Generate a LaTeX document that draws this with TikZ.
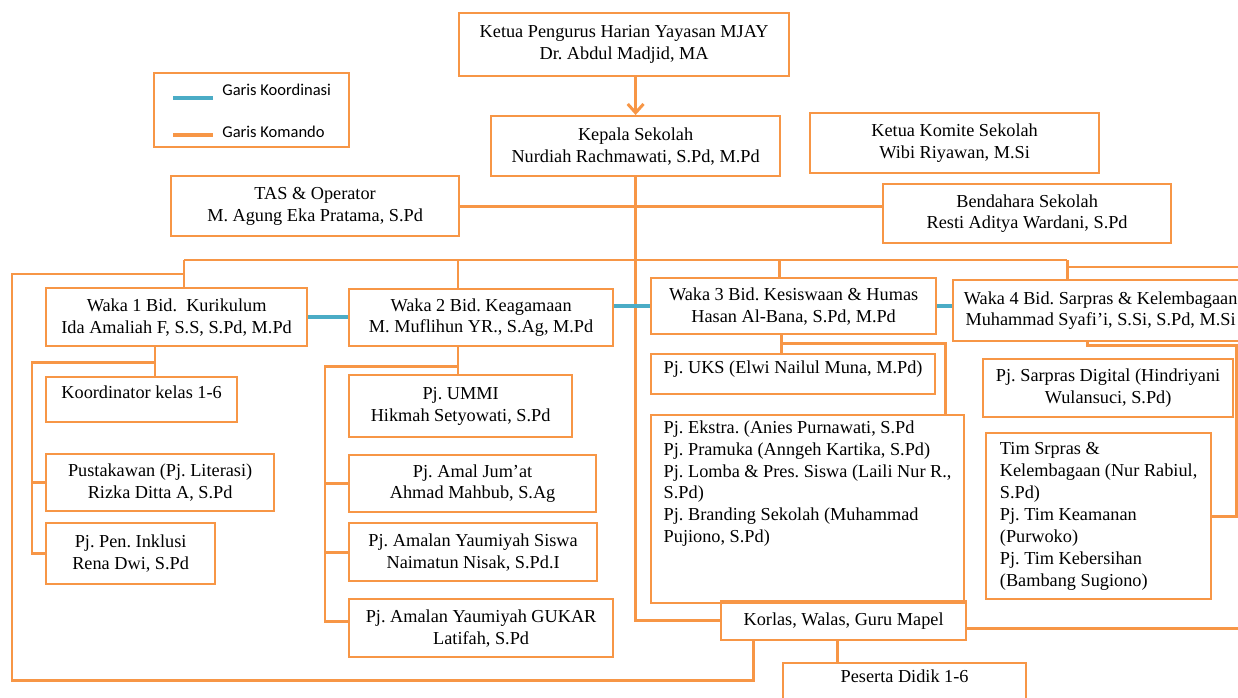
\documentclass[tikz,border=0pt]{standalone}
\usepackage{fontspec}
\setmainfont{Liberation Serif}
\newfontfamily\legendfont{Carlito}
\usetikzlibrary{arrows.meta, calc}
\definecolor{oranye}{RGB}{247,150,70}
\definecolor{biru}{RGB}{75,172,198}

\begin{document}
\frenchspacing
\begin{tikzpicture}[x=0.02cm, y=-0.02cm,
        box/.style={draw=oranye, line width=1.3pt, anchor=north west, inner sep=3pt, align=center,
            font=\fontsize{10.4}{12.5}\selectfont},
        leftbox/.style={box, align=left},
        atas/.style={text depth=0.28cm},
        komando/.style={oranye, line width=1.7pt},
        koordinasi/.style={biru, line width=2.4pt},
        legendtext/.style={anchor=west, inner sep=0pt, font=\legendfont\fontsize{9.4}{11}\selectfont}]
        \useasboundingbox (0,0) rectangle (1238,697);
        \clip (0,0) rectangle (1238,697);

        % pimpinan
        \node[box, minimum width=6.6cm, minimum height=1.26cm] (ketua) at (458,12) {Ketua Pengurus Harian Yayasan MJAY\\Dr. Abdul Madjid, MA};
        \node[box, minimum width=5.78cm, minimum height=1.2cm] (kepala) at (490,115) {Kepala Sekolah\\Nurdiah Rachmawati, S.Pd, M.Pd};
        \node[box, minimum width=5.78cm, minimum height=1.2cm] (komite) at (809,112) {Ketua Komite Sekolah\\Wibi Riyawan, M.Si};
        \node[box, minimum width=5.76cm, minimum height=1.2cm] (tas) at (170,175) {TAS \& Operator\\M. Agung Eka Pratama, S.Pd};
        \node[box, minimum width=5.76cm, minimum height=1.18cm] (bendahara) at (882,183) {Bendahara Sekolah\\Resti Aditya Wardani, S.Pd};

        % legenda
        \node[box, minimum width=3.9cm, minimum height=1.48cm] (legenda) at (153,72) {};
        \node[legendtext] (tkoord) at (222,90) {Garis Koordinasi};
        \node[legendtext] (tkomando) at (222,132) {Garis Komando};
        \draw[koordinasi, line width=2pt] ($(tkoord.west)+(-49,8)$) -- ++(40,0);
        \draw[komando, line width=2pt] ($(tkomando.west)+(-49,3)$) -- ++(40,0);

        % waka
        \node[box, minimum width=5.22cm, minimum height=1.16cm] (waka1) at (45,287) {Waka 1 Bid.\ \ Kurikulum\\Ida Amaliah F, S.S, S.Pd, M.Pd};
        \node[box, minimum width=5.28cm, minimum height=1.14cm] (waka2) at (348,288) {Waka 2 Bid. Keagamaan\\M. Muflihun YR., S.Ag, M.Pd};
        \node[box, minimum width=5.7cm, minimum height=1.12cm] (waka3) at (650,277) {Waka 3 Bid. Kesiswaan \& Humas\\Hasan Al-Bana, S.Pd, M.Pd};
        \node[box, minimum width=5.9cm, minimum height=1.22cm] (waka4) at (952,279) {Waka 4 Bid. Sarpras \& Kelembagaan\\Muhammad Syafi’i, S.Si, S.Pd, M.Si};

        % bawahan waka 1
        \node[box, atas, minimum width=3.82cm, minimum height=0.9cm] (korkelas) at (45,376) {Koordinator kelas 1-6};
        \node[box, minimum width=4.56cm, minimum height=1.14cm] (pustaka) at (45,453) {Pustakawan (Pj. Literasi)\\Rizka Ditta A, S.Pd};
        \node[box, minimum width=3.38cm, minimum height=1.22cm] (inklusi) at (45,522) {Pj. Pen. Inklusi\\Rena Dwi, S.Pd};

        % bawahan waka 2
        \node[box, minimum width=4.46cm, minimum height=1.24cm] (ummi) at (348,374) {Pj. UMMI\\Hikmah Setyowati, S.Pd};
        \node[box, minimum width=4.94cm, minimum height=1.14cm] (jumat) at (348,454) {Pj. Amal Jum’at\\Ahmad Mahbub, S.Ag};
        \node[box, minimum width=4.96cm, minimum height=1.16cm] (siswa) at (348,522) {Pj. Amalan Yaumiyah Siswa\\Naimatun Nisak, S.Pd.I};
        \node[box, minimum width=5.28cm, minimum height=1.16cm] (gukar) at (348,598) {Pj. Amalan Yaumiyah GUKAR\\Latifah, S.Pd};

        % bawahan waka 3
        \node[leftbox, atas, minimum width=5.68cm, minimum height=0.8cm] (uks) at (650,353) {Pj. UKS (Elwi Nailul Muna, M.Pd)};
        \node[leftbox, minimum width=6.26cm, text depth=1.1cm] (ekstra) at (650,414) {Pj. Ekstra. (Anies Purnawati, S.Pd\\Pj. Pramuka (Anngeh Kartika, S.Pd)\\Pj. Lomba \& Pres. Siswa (Laili Nur R.,\\S.Pd)\\Pj. Branding Sekolah (Muhammad\\Pujiono, S.Pd)};

        % bawahan waka 4
        \node[box, minimum width=5cm, minimum height=1.16cm] (digital) at (982,358) {Pj. Sarpras Digital (Hindriyani\\Wulansuci, S.Pd)};
        \node[leftbox, minimum width=4.5cm, minimum height=3.32cm] (timsr) at (985,432) {Tim Srpras \&\\Kelembagaan (Nur Rabiul,\\S.Pd)\\Pj. Tim Keamanan\\(Purwoko)\\Pj. Tim Kebersihan\\(Bambang Sugiono)};

        % guru dan siswa
        \node[box, minimum width=4.9cm, minimum height=0.78cm] (korlas) at (720,600) {Korlas, Walas, Guru Mapel};
        \node[box, atas, minimum width=4.86cm, minimum height=0.8cm] (peserta) at (782,662) {Peserta Didik 1-6};

        % garis komando
        \draw[komando, -{Straight Barb[length=5pt, width=9pt]}] (kepala.north |- ketua.south) -- (kepala.north);
        \draw[komando] (kepala.south) |- (korlas.west);
        \draw[komando] (tas.east) -- (tas.east -| bendahara.west);
        \foreach \x/\w in {184/waka1, 458/waka2, 779/waka3, 1067/waka4} {
            \coordinate (d-\w) at (\x,260);
            \draw[komando] (d-\w) -- (d-\w |- \w.north);
        }
        \draw[komando] (d-waka1) -- (d-waka4);
        \coordinate (kanan) at (1240,267);
        \draw[komando] (d-waka4 |- kanan) -- (kanan);
        \coordinate (kiri) at (12,274);
        \coordinate (bawah) at (12,680);
        \draw[komando] (d-waka1 |- kiri) -- (kiri) -- (bawah) -| ($(korlas.south west)+(33,0)$);

        \coordinate (c1) at (155,362);
        \coordinate (c2) at (32,362);
        \draw[komando] (c1 |- waka1.south) -- (c1 |- korkelas.north);
        \draw[komando] (c1) -- (c2) |- (inklusi.west);
        \draw[komando] (c2 |- pustaka.west) -- (pustaka.west);

        \coordinate (e1) at (458,366);
        \coordinate (e2) at (325,366);
        \draw[komando] (e1 |- waka2.south) -- (e1 |- ummi.north);
        \draw[komando] (e1) -- (e2) |- ($(gukar.west)+(0,-7)$);
        \foreach \n in {jumat, siswa}
            \draw[komando] (e2 |- \n.west) -- (\n.west);

        \coordinate (f1) at (781,343);
        \coordinate (f2) at (945,343);
        \draw[komando] (f1 |- waka3.south) -- (f1 |- uks.north);
        \draw[komando] (f1) -- (f2) -- (f2 |- ekstra.north);

        \coordinate (g1) at (1087,345);
        \coordinate (g2) at (1236,345);
        \draw[komando] (g1 |- waka4.south) -- (g1) -- (g2) |- (timsr.east);
        \draw[komando] (g2 |- timsr.east) -- (kanan |- timsr.east);

        \coordinate (h1) at ($(korlas.south)+(-6,0)$);
        \draw[komando] (h1) -- (h1 |- peserta.north);
        \coordinate (h2) at ($(korlas.east)+(0,8)$);
        \draw[komando] (h2) -- (h2 -| kanan);

        % garis koordinasi
        \draw[koordinasi] (waka1.east) -- (waka1.east -| waka2.west);
        \draw[koordinasi] (waka2.east |- waka3.west) -- (waka3.west);
        \draw[koordinasi] (waka3.east) -- (waka3.east -| waka4.west);
    \end{tikzpicture}
\end{document}
